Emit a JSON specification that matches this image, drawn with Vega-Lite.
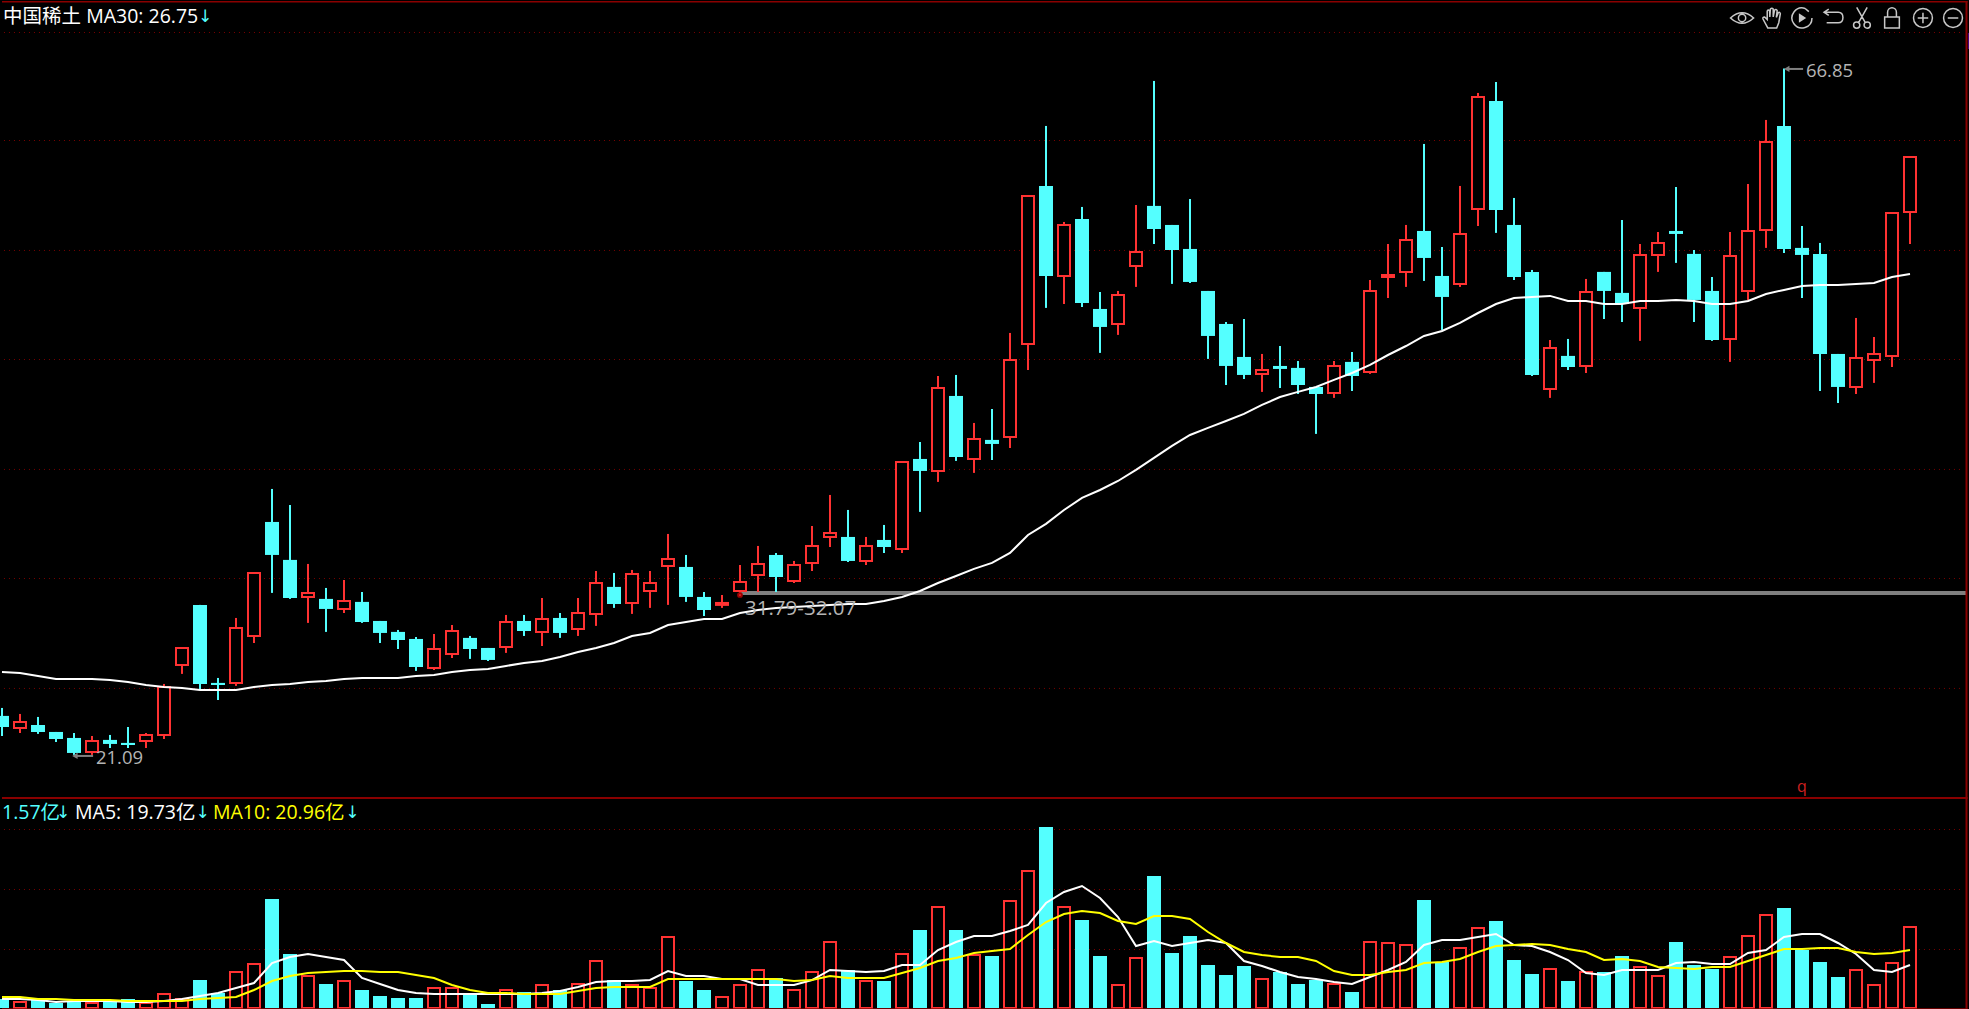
{
  "$schema": "https://vega.github.io/schema/vega-lite/v6.json",
  "background": "#000000",
  "padding": 0,
  "spacing": 0,
  "bounds": "flush",
  "config": {
    "view": {"stroke": null},
    "text": {"font": "Open Sans, Noto Sans CJK SC"}
  },
  "datasets": {
    "days": [
      {"d":0,"dir":"down","open":23.69,"high":24.22,"low":22.35,"close":22.95,"vol":3.2,"ma30":26.62,"vma5":3.2,"vma10":4},
      {"d":1,"dir":"up","open":22.89,"high":23.82,"low":22.55,"close":23.29,"vol":2,"ma30":26.55,"vma5":3.2,"vma10":4},
      {"d":2,"dir":"down","open":23.09,"high":23.62,"low":22.49,"close":22.62,"vol":2.8,"ma30":26.35,"vma5":2.8,"vma10":3.2},
      {"d":3,"dir":"down","open":22.62,"high":22.62,"low":21.95,"close":22.15,"vol":1.6,"ma30":26.15,"vma5":2,"vma10":3.2},
      {"d":4,"dir":"down","open":22.22,"high":22.55,"low":21.09,"close":21.22,"vol":2,"ma30":26.15,"vma5":2.4,"vma10":2.8},
      {"d":5,"dir":"up","open":21.29,"high":22.35,"low":21.09,"close":22.02,"vol":1.6,"ma30":26.15,"vma5":2.4,"vma10":2.8},
      {"d":6,"dir":"down","open":22.09,"high":22.42,"low":21.55,"close":21.82,"vol":2.4,"ma30":26.09,"vma5":2.4,"vma10":2.8},
      {"d":7,"dir":"down","open":21.89,"high":22.95,"low":21.55,"close":21.75,"vol":3.2,"ma30":25.95,"vma5":2,"vma10":2.4},
      {"d":8,"dir":"up","open":22.02,"high":22.55,"low":21.55,"close":22.42,"vol":1.6,"ma30":25.75,"vma5":2,"vma10":2.4},
      {"d":9,"dir":"up","open":22.42,"high":25.82,"low":22.15,"close":25.62,"vol":5.2,"ma30":25.62,"vma5":2.4,"vma10":2.4},
      {"d":10,"dir":"up","open":27.09,"high":28.22,"low":26.49,"close":28.22,"vol":3.2,"ma30":25.55,"vma5":3.2,"vma10":2.4},
      {"d":11,"dir":"down","open":31.09,"high":31.09,"low":25.42,"close":25.82,"vol":10.8,"ma30":25.42,"vma5":4.4,"vma10":3.2},
      {"d":12,"dir":"down","open":25.89,"high":26.22,"low":24.75,"close":25.75,"vol":5.6,"ma30":25.42,"vma5":5.6,"vma10":3.6},
      {"d":13,"dir":"up","open":25.89,"high":30.22,"low":25.69,"close":29.55,"vol":14,"ma30":25.42,"vma5":7.6,"vma10":4},
      {"d":14,"dir":"up","open":29.02,"high":33.22,"low":28.55,"close":33.22,"vol":17.2,"ma30":25.62,"vma5":9.6,"vma10":6.8},
      {"d":15,"dir":"down","open":36.62,"high":38.82,"low":31.89,"close":34.42,"vol":43.2,"ma30":25.75,"vma5":17.6,"vma10":10.4},
      {"d":16,"dir":"down","open":34.09,"high":37.75,"low":31.49,"close":31.55,"vol":21.2,"ma30":25.82,"vma5":20,"vma10":12.4},
      {"d":17,"dir":"up","open":31.62,"high":33.82,"low":29.89,"close":31.89,"vol":12.4,"ma30":25.95,"vma5":21.2,"vma10":13.6},
      {"d":18,"dir":"down","open":31.49,"high":32.22,"low":29.29,"close":30.82,"vol":9.2,"ma30":26.02,"vma5":20,"vma10":14},
      {"d":19,"dir":"up","open":30.82,"high":32.75,"low":30.55,"close":31.35,"vol":10.4,"ma30":26.15,"vma5":18.8,"vma10":14.4},
      {"d":20,"dir":"down","open":31.29,"high":31.95,"low":29.89,"close":29.95,"vol":6.8,"ma30":26.22,"vma5":11.6,"vma10":14.4},
      {"d":21,"dir":"down","open":30.02,"high":30.02,"low":28.55,"close":29.22,"vol":4.4,"ma30":26.22,"vma5":9.2,"vma10":14},
      {"d":22,"dir":"down","open":29.29,"high":29.42,"low":28.15,"close":28.75,"vol":3.6,"ma30":26.22,"vma5":6.8,"vma10":14},
      {"d":23,"dir":"down","open":28.82,"high":28.95,"low":26.69,"close":26.95,"vol":3.6,"ma30":26.35,"vma5":5.6,"vma10":12.8},
      {"d":24,"dir":"up","open":26.89,"high":29.15,"low":26.75,"close":28.15,"vol":7.6,"ma30":26.42,"vma5":5.2,"vma10":11.6},
      {"d":25,"dir":"up","open":27.82,"high":29.75,"low":27.55,"close":29.35,"vol":7.6,"ma30":26.62,"vma5":5.2,"vma10":8.8},
      {"d":26,"dir":"down","open":28.89,"high":29.02,"low":27.49,"close":28.15,"vol":5.2,"ma30":26.75,"vma5":5.2,"vma10":6.8},
      {"d":27,"dir":"down","open":28.22,"high":28.22,"low":27.35,"close":27.42,"vol":1.2,"ma30":26.82,"vma5":5.2,"vma10":5.6},
      {"d":28,"dir":"up","open":28.29,"high":30.42,"low":27.89,"close":29.95,"vol":6.8,"ma30":27.02,"vma5":5.2,"vma10":5.6},
      {"d":29,"dir":"down","open":30.02,"high":30.42,"low":29.02,"close":29.35,"vol":6,"ma30":27.22,"vma5":5.2,"vma10":5.2},
      {"d":30,"dir":"up","open":29.29,"high":31.55,"low":28.35,"close":30.15,"vol":8.8,"ma30":27.35,"vma5":5.6,"vma10":5.2},
      {"d":31,"dir":"down","open":30.22,"high":30.55,"low":28.89,"close":29.22,"vol":6.8,"ma30":27.62,"vma5":6.4,"vma10":5.2},
      {"d":32,"dir":"up","open":29.49,"high":31.55,"low":29.02,"close":30.55,"vol":9.2,"ma30":27.95,"vma5":8,"vma10":6.4},
      {"d":33,"dir":"up","open":30.49,"high":33.35,"low":29.69,"close":32.55,"vol":18.4,"ma30":28.22,"vma5":10,"vma10":7.6},
      {"d":34,"dir":"down","open":32.29,"high":33.22,"low":30.89,"close":31.15,"vol":10.8,"ma30":28.55,"vma5":10.4,"vma10":8},
      {"d":35,"dir":"up","open":31.22,"high":33.42,"low":30.49,"close":33.15,"vol":8.8,"ma30":29.02,"vma5":10.4,"vma10":8},
      {"d":36,"dir":"up","open":32.02,"high":33.35,"low":30.89,"close":32.55,"vol":7.6,"ma30":29.22,"vma5":10.8,"vma10":8},
      {"d":37,"dir":"up","open":33.69,"high":35.82,"low":31.09,"close":34.15,"vol":28,"ma30":29.75,"vma5":14.4,"vma10":11.2},
      {"d":38,"dir":"down","open":33.62,"high":34.42,"low":31.29,"close":31.62,"vol":10.4,"ma30":29.95,"vma5":12.4,"vma10":11.2},
      {"d":39,"dir":"down","open":31.62,"high":31.95,"low":30.35,"close":30.75,"vol":6.8,"ma30":30.15,"vma5":12.4,"vma10":11.2},
      {"d":40,"dir":"up","open":31.09,"high":31.75,"low":30.89,"close":31.22,"vol":4,"ma30":30.15,"vma5":11.2,"vma10":11.2},
      {"d":41,"dir":"up","open":32.02,"high":33.75,"low":31.62,"close":32.62,"vol":8.8,"ma30":30.55,"vma5":11.2,"vma10":11.2},
      {"d":42,"dir":"up","open":33.09,"high":35.02,"low":31.95,"close":33.82,"vol":14.8,"ma30":30.75,"vma5":8.8,"vma10":11.2},
      {"d":43,"dir":"down","open":34.42,"high":34.55,"low":31.95,"close":32.95,"vol":11.6,"ma30":30.89,"vma5":8.8,"vma10":11.2},
      {"d":44,"dir":"up","open":32.69,"high":34.02,"low":32.55,"close":33.75,"vol":6.8,"ma30":30.95,"vma5":8.8,"vma10":10.4},
      {"d":45,"dir":"up","open":33.89,"high":36.35,"low":33.35,"close":35.02,"vol":14,"ma30":31.02,"vma5":10.8,"vma10":10.8},
      {"d":46,"dir":"up","open":35.62,"high":38.42,"low":34.95,"close":35.89,"vol":26,"ma30":31.09,"vma5":14.8,"vma10":12.4},
      {"d":47,"dir":"down","open":35.62,"high":37.42,"low":33.95,"close":34.02,"vol":14.8,"ma30":31.15,"vma5":14.4,"vma10":11.6},
      {"d":48,"dir":"up","open":34.02,"high":35.62,"low":33.75,"close":35.02,"vol":10.4,"ma30":31.15,"vma5":14,"vma10":11.6},
      {"d":49,"dir":"down","open":35.42,"high":36.42,"low":34.55,"close":34.95,"vol":10.4,"ma30":31.35,"vma5":14.4,"vma10":11.6},
      {"d":50,"dir":"up","open":34.82,"high":40.62,"low":34.55,"close":40.62,"vol":21.2,"ma30":31.62,"vma5":16.8,"vma10":13.6},
      {"d":51,"dir":"down","open":40.82,"high":41.95,"low":37.29,"close":40.02,"vol":30.8,"ma30":32.02,"vma5":16.8,"vma10":15.6},
      {"d":52,"dir":"up","open":40.02,"high":46.35,"low":39.29,"close":45.55,"vol":40,"ma30":32.55,"vma5":22.8,"vma10":18.4},
      {"d":53,"dir":"down","open":45.02,"high":46.42,"low":40.69,"close":40.95,"vol":30.8,"ma30":33.02,"vma5":26,"vma10":19.6},
      {"d":54,"dir":"up","open":40.82,"high":43.22,"low":39.89,"close":42.15,"vol":20.8,"ma30":33.49,"vma5":28.4,"vma10":21.6},
      {"d":55,"dir":"down","open":42.09,"high":44.15,"low":40.75,"close":41.82,"vol":20.4,"ma30":33.89,"vma5":28.4,"vma10":22.4},
      {"d":56,"dir":"up","open":42.29,"high":49.22,"low":41.55,"close":47.42,"vol":42.4,"ma30":34.55,"vma5":30.4,"vma10":23.2},
      {"d":57,"dir":"up","open":48.49,"high":58.35,"low":46.75,"close":58.35,"vol":54.4,"ma30":35.75,"vma5":32.8,"vma10":28.8},
      {"d":58,"dir":"down","open":59.02,"high":63.02,"low":50.89,"close":53.02,"vol":72,"ma30":36.49,"vma5":41.6,"vma10":34},
      {"d":59,"dir":"up","open":53.02,"high":56.62,"low":51.15,"close":56.42,"vol":40,"ma30":37.42,"vma5":46,"vma10":37.2},
      {"d":60,"dir":"down","open":56.82,"high":57.62,"low":50.95,"close":51.22,"vol":34.8,"ma30":38.22,"vma5":48.4,"vma10":38.4},
      {"d":61,"dir":"down","open":50.82,"high":51.95,"low":47.89,"close":49.62,"vol":20.4,"ma30":38.75,"vma5":43.6,"vma10":37.6},
      {"d":62,"dir":"up","open":49.82,"high":52.02,"low":49.09,"close":51.75,"vol":8.8,"ma30":39.35,"vma5":36,"vma10":34.4},
      {"d":63,"dir":"up","open":53.69,"high":57.75,"low":52.29,"close":54.62,"vol":19.6,"ma30":40.09,"vma5":24.4,"vma10":33.2},
      {"d":64,"dir":"down","open":57.69,"high":66.02,"low":55.15,"close":56.15,"vol":52.4,"ma30":40.89,"vma5":26.4,"vma10":36.4},
      {"d":65,"dir":"down","open":56.42,"high":56.42,"low":52.49,"close":54.75,"vol":21.6,"ma30":41.69,"vma5":24.4,"vma10":36.4},
      {"d":66,"dir":"down","open":54.82,"high":58.15,"low":52.55,"close":52.62,"vol":28.4,"ma30":42.42,"vma5":25.6,"vma10":35.2},
      {"d":67,"dir":"down","open":52.02,"high":52.02,"low":47.49,"close":49.02,"vol":16.8,"ma30":42.89,"vma5":26.8,"vma10":30},
      {"d":68,"dir":"down","open":49.82,"high":49.95,"low":45.75,"close":47.02,"vol":12.8,"ma30":43.35,"vma5":25.6,"vma10":25.6},
      {"d":69,"dir":"down","open":47.62,"high":50.15,"low":46.15,"close":46.42,"vol":16.4,"ma30":43.82,"vma5":18.4,"vma10":22},
      {"d":70,"dir":"up","open":46.49,"high":47.82,"low":45.29,"close":46.75,"vol":11.2,"ma30":44.42,"vma5":16.4,"vma10":20.8},
      {"d":71,"dir":"down","open":47.02,"high":48.35,"low":45.55,"close":46.82,"vol":14,"ma30":44.95,"vma5":14,"vma10":20},
      {"d":72,"dir":"down","open":46.89,"high":47.35,"low":45.15,"close":45.75,"vol":9.2,"ma30":45.29,"vma5":12,"vma10":20},
      {"d":73,"dir":"down","open":45.62,"high":45.62,"low":42.49,"close":45.15,"vol":10.8,"ma30":45.62,"vma5":11.2,"vma10":18.4},
      {"d":74,"dir":"up","open":45.22,"high":47.35,"low":44.89,"close":47.02,"vol":9.2,"ma30":46.09,"vma5":10,"vma10":14.4},
      {"d":75,"dir":"down","open":47.29,"high":47.95,"low":45.35,"close":46.35,"vol":6,"ma30":46.55,"vma5":9.2,"vma10":12.8},
      {"d":76,"dir":"up","open":46.62,"high":52.75,"low":46.49,"close":52.02,"vol":26,"ma30":47.09,"vma5":12,"vma10":12.8},
      {"d":77,"dir":"up","open":52.95,"high":55.15,"low":51.55,"close":53.09,"vol":25.6,"ma30":47.75,"vma5":14.8,"vma10":14},
      {"d":78,"dir":"up","open":53.29,"high":56.42,"low":52.29,"close":55.42,"vol":24.8,"ma30":48.35,"vma5":18,"vma10":14.8},
      {"d":79,"dir":"down","open":56.02,"high":61.82,"low":52.69,"close":54.22,"vol":42.8,"ma30":49.02,"vma5":24.8,"vma10":17.6},
      {"d":80,"dir":"down","open":53.02,"high":54.95,"low":49.42,"close":51.62,"vol":18,"ma30":49.35,"vma5":26.8,"vma10":18},
      {"d":81,"dir":"up","open":52.49,"high":59.02,"low":52.29,"close":55.82,"vol":23.6,"ma30":49.89,"vma5":26.8,"vma10":19.2},
      {"d":82,"dir":"up","open":57.49,"high":65.22,"low":56.35,"close":64.95,"vol":31.6,"ma30":50.55,"vma5":28,"vma10":22},
      {"d":83,"dir":"down","open":64.69,"high":65.95,"low":55.89,"close":57.42,"vol":34.4,"ma30":51.15,"vma5":29.2,"vma10":24.4},
      {"d":84,"dir":"down","open":56.42,"high":58.22,"low":52.75,"close":52.95,"vol":18.8,"ma30":51.55,"vma5":24.8,"vma10":24.8},
      {"d":85,"dir":"down","open":53.29,"high":53.42,"low":46.35,"close":46.42,"vol":13.2,"ma30":51.62,"vma5":24.4,"vma10":25.2},
      {"d":86,"dir":"up","open":45.49,"high":48.75,"low":44.89,"close":48.22,"vol":15.2,"ma30":51.69,"vma5":22,"vma10":24.8},
      {"d":87,"dir":"down","open":47.69,"high":48.82,"low":46.75,"close":46.95,"vol":10.4,"ma30":51.35,"vma5":18.8,"vma10":23.2},
      {"d":88,"dir":"up","open":47.02,"high":52.82,"low":46.55,"close":51.95,"vol":14,"ma30":51.35,"vma5":13.6,"vma10":22},
      {"d":89,"dir":"down","open":53.29,"high":53.29,"low":50.15,"close":52.02,"vol":14,"ma30":51.15,"vma5":12.8,"vma10":18.8},
      {"d":90,"dir":"down","open":51.89,"high":56.75,"low":49.95,"close":51.15,"vol":20.4,"ma30":51.15,"vma5":14.8,"vma10":19.2},
      {"d":91,"dir":"up","open":50.89,"high":55.15,"low":48.69,"close":54.42,"vol":16,"ma30":51.35,"vma5":14.8,"vma10":18.4},
      {"d":92,"dir":"up","open":54.42,"high":55.95,"low":53.29,"close":55.22,"vol":12.4,"ma30":51.35,"vma5":14.8,"vma10":16},
      {"d":93,"dir":"down","open":56.02,"high":58.95,"low":53.89,"close":55.82,"vol":26,"ma30":51.42,"vma5":17.6,"vma10":15.6},
      {"d":94,"dir":"down","open":54.49,"high":54.75,"low":49.95,"close":51.42,"vol":16.8,"ma30":51.35,"vma5":18,"vma10":15.2},
      {"d":95,"dir":"down","open":52.02,"high":52.95,"low":48.69,"close":48.75,"vol":15.2,"ma30":51.15,"vma5":17.2,"vma10":16},
      {"d":96,"dir":"up","open":48.82,"high":55.95,"low":47.29,"close":54.35,"vol":20,"ma30":51.15,"vma5":17.2,"vma10":16},
      {"d":97,"dir":"up","open":52.02,"high":59.15,"low":51.42,"close":56.02,"vol":28.4,"ma30":51.35,"vma5":21.6,"vma10":18.4},
      {"d":98,"dir":"up","open":56.09,"high":63.42,"low":54.89,"close":61.95,"vol":36.8,"ma30":51.82,"vma5":22.8,"vma10":20.8},
      {"d":99,"dir":"down","open":63.02,"high":66.85,"low":54.55,"close":54.82,"vol":39.6,"ma30":52.09,"vma5":28,"vma10":23.2},
      {"d":100,"dir":"down","open":54.89,"high":56.35,"low":51.55,"close":54.42,"vol":22.8,"ma30":52.35,"vma5":29.2,"vma10":23.2},
      {"d":101,"dir":"down","open":54.49,"high":55.22,"low":45.35,"close":47.82,"vol":18,"ma30":52.42,"vma5":29.2,"vma10":23.6},
      {"d":102,"dir":"down","open":47.82,"high":47.82,"low":44.55,"close":45.62,"vol":12,"ma30":52.42,"vma5":25.6,"vma10":23.6},
      {"d":103,"dir":"up","open":45.62,"high":50.22,"low":45.15,"close":47.55,"vol":14.8,"ma30":52.49,"vma5":21.2,"vma10":22},
      {"d":104,"dir":"up","open":47.42,"high":48.95,"low":45.89,"close":47.82,"vol":8.8,"ma30":52.55,"vma5":14.8,"vma10":21.2},
      {"d":105,"dir":"up","open":47.69,"high":57.22,"low":46.95,"close":57.22,"vol":17.6,"ma30":52.95,"vma5":14,"vma10":21.6},
      {"d":106,"dir":"up","open":57.29,"high":60.95,"low":55.15,"close":60.95,"vol":32,"ma30":53.15,"vma5":16.8,"vma10":22.8}
    ],
    "priceGrid": [
      {"d":0.11,"d2":108.9,"p":69.25},
      {"d":0.11,"d2":108.9,"p":62.05},
      {"d":0.11,"d2":108.9,"p":54.72},
      {"d":0.11,"d2":108.9,"p":47.45},
      {"d":0.11,"d2":108.9,"p":40.12},
      {"d":0.11,"d2":108.9,"p":32.85},
      {"d":0.11,"d2":108.9,"p":25.52}
    ],
    "volGrid": [
      {"d":0.11,"d2":108.9,"v":71},
      {"d":0.11,"d2":108.9,"v":47},
      {"d":0.11,"d2":108.9,"v":23}
    ]
  },
  "vconcat": [
    {
      "width": 1969,
      "height": 798,
      "data": {"name": "days"},
      "encoding": {
        "x": {"field": "d", "type": "quantitative", "scale": {"domain": [-0.1111, 109.2778], "nice": false, "zero": false, "padding": 0}, "axis": null}
      },
      "layer": [
        {
          "data": {"name": "priceGrid"},
          "mark": {"type": "rule", "color": "#7a0000", "strokeWidth": 1, "strokeDash": [1, 4]},
          "encoding": {
            "x2": {"field": "d2"},
            "y": {"field": "p", "type": "quantitative", "scale": {"domain": [18.15, 71.35], "nice": false, "zero": false}, "axis": null}
          }
        },
        {
          "data": {"values": [{"d": 41.06, "d2": 109.14, "p": 31.89}]},
          "mark": {"type": "rule", "color": "#808080", "strokeWidth": 4},
          "encoding": {
            "x2": {"field": "d2"},
            "y": {"field": "p", "type": "quantitative", "scale": {"domain": [18.15, 71.35], "nice": false, "zero": false}, "axis": null}
          }
        },
        {
          "mark": {"type": "rule", "strokeWidth": 2},
          "encoding": {
            "y": {"field": "low", "type": "quantitative", "scale": {"domain": [18.15, 71.35], "nice": false, "zero": false}, "axis": null},
            "y2": {"field": "high"},
            "color": {"field": "dir", "type": "nominal", "scale": {"domain": ["up", "down"], "range": ["#ff3232", "#54ffff"]}, "legend": null}
          }
        },
        {
          "transform": [{"filter": "datum.dir == 'down'"}],
          "mark": {"type": "bar", "size": 14, "orient": "vertical", "color": "#54ffff", "clip": true},
          "encoding": {
            "y": {"field": "open", "type": "quantitative", "scale": {"domain": [18.15, 71.35], "nice": false, "zero": false}, "axis": null},
            "y2": {"field": "close"}
          }
        },
        {
          "transform": [{"filter": "datum.dir == 'up'"}],
          "mark": {"type": "bar", "size": 12, "orient": "vertical", "fill": "#000000", "stroke": "#ff3232", "strokeWidth": 2, "clip": true},
          "encoding": {
            "y": {"field": "open", "type": "quantitative", "scale": {"domain": [18.15, 71.35], "nice": false, "zero": false}, "axis": null},
            "y2": {"field": "close"}
          }
        },
        {
          "mark": {"type": "line", "color": "#ffffff", "strokeWidth": 2, "clip": true},
          "encoding": {
            "y": {"field": "ma30", "type": "quantitative", "scale": {"domain": [18.15, 71.35], "nice": false, "zero": false}, "axis": null}
          }
        },
        {
          "data": {"values": [
            {"d": 4.05, "d2": 5.06, "p": 21.02},
            {"d": 99.1, "d2": 100.06, "p": 66.82}
          ]},
          "mark": {"type": "rule", "color": "#808080", "strokeWidth": 2},
          "encoding": {
            "x2": {"field": "d2"},
            "y": {"field": "p", "type": "quantitative", "scale": {"domain": [18.15, 71.35], "nice": false, "zero": false}, "axis": null}
          }
        },
        {
          "data": {"values": [
            {"d": 4.05, "p": 21.02},
            {"d": 99.15, "p": 66.82}
          ]},
          "mark": {"type": "point", "shape": "triangle-left", "filled": true, "size": 40, "color": "#808080", "opacity": 1},
          "encoding": {
            "y": {"field": "p", "type": "quantitative", "scale": {"domain": [18.15, 71.35], "nice": false, "zero": false}, "axis": null}
          }
        },
        {
          "data": {"values": [{"d": 41, "p": 31.75}]},
          "mark": {"type": "point", "filled": false, "size": 14, "stroke": "#a00000", "strokeWidth": 2, "opacity": 1},
          "encoding": {
            "y": {"field": "p", "type": "quantitative", "scale": {"domain": [18.15, 71.35], "nice": false, "zero": false}, "axis": null}
          }
        },
        {
          "data": {"values": [
            {"d": 5.22, "p": 20.88, "label": "21.09"},
            {"d": 100.22, "p": 66.68, "label": "66.85"}
          ]},
          "mark": {"type": "text", "align": "left", "baseline": "middle", "fontSize": 18.5, "color": "#b4b4b4"},
          "encoding": {
            "y": {"field": "p", "type": "quantitative", "scale": {"domain": [18.15, 71.35], "nice": false, "zero": false}, "axis": null},
            "text": {"field": "label"}
          }
        },
        {
          "data": {"values": [{"d": 41.28, "p": 30.82, "label": "31.79-32.07"}]},
          "mark": {"type": "text", "align": "left", "baseline": "middle", "fontSize": 20.5, "color": "#b4b4b4"},
          "encoding": {
            "y": {"field": "p", "type": "quantitative", "scale": {"domain": [18.15, 71.35], "nice": false, "zero": false}, "axis": null},
            "text": {"field": "label"}
          }
        },
        {
          "data": {"values": [{"d": 0.06, "p": 70.28, "label": "中国稀土 MA30: 26.75"}]},
          "mark": {"type": "text", "align": "left", "baseline": "middle", "fontSize": 19.5, "color": "#ffffff"},
          "encoding": {
            "y": {"field": "p", "type": "quantitative", "scale": {"domain": [18.15, 71.35], "nice": false, "zero": false}, "axis": null},
            "text": {"field": "label"}
          }
        },
        {
          "data": {"values": [{"d": 11.28, "p": 70.28, "label": "↓"}]},
          "mark": {"type": "text", "align": "center", "baseline": "middle", "font": "DejaVu Sans", "fontSize": 17, "color": "#54ffff"},
          "encoding": {
            "y": {"field": "p", "type": "quantitative", "scale": {"domain": [18.15, 71.35], "nice": false, "zero": false}, "axis": null},
            "text": {"field": "label"}
          }
        },
        {
          "data": {"values": [{"d": 99.72, "p": 18.93, "label": "q"}]},
          "mark": {"type": "text", "align": "left", "baseline": "middle", "fontSize": 16, "color": "#d02020"},
          "encoding": {
            "y": {"field": "p", "type": "quantitative", "scale": {"domain": [18.15, 71.35], "nice": false, "zero": false}, "axis": null},
            "text": {"field": "label"}
          }
        },
        {
          "data": {"values": [{"d": 96.67, "p": 70.22}]},
          "mark": {"type": "point", "shape": "M-1.1,0Q0,-1,1.1,0Q0,1,-1.1,0ZM-0.35,0A0.35,0.35,0,1,1,0.35,0A0.35,0.35,0,1,1,-0.35,0Z", "filled": false, "size": 441, "stroke": "#c8c8c8", "strokeWidth": 1.5, "opacity": 1},
          "encoding": {"y": {"field": "p", "type": "quantitative", "scale": {"domain": [18.15, 71.35], "nice": false, "zero": false}, "axis": null}}
        },
        {
          "data": {"values": [{"d": 98.33, "p": 70.22}]},
          "mark": {"type": "point", "shape": "M-0.4,0.95L-0.85,0.1Q-0.9,-0.1,-0.7,-0.1L-0.45,0.15L-0.45,-0.65Q-0.35,-0.85,-0.22,-0.65L-0.2,-0.1L-0.15,-0.85Q0,-1,0.12,-0.85L0.12,-0.1L0.25,-0.75Q0.4,-0.9,0.5,-0.7L0.42,-0.05L0.6,-0.5Q0.75,-0.6,0.8,-0.4L0.65,0.45L0.45,0.95Z", "filled": false, "size": 441, "stroke": "#c8c8c8", "strokeWidth": 1.5, "opacity": 1},
          "encoding": {"y": {"field": "p", "type": "quantitative", "scale": {"domain": [18.15, 71.35], "nice": false, "zero": false}, "axis": null}}
        },
        {
          "data": {"values": [{"d": 100, "p": 70.22}]},
          "mark": {"type": "point", "shape": "M0.3,-0.9A0.95,0.95,0,1,0,0.95,0M0.3,-0.9L0.65,-0.6", "filled": false, "size": 441, "stroke": "#c8c8c8", "strokeWidth": 1.5, "opacity": 1},
          "encoding": {"y": {"field": "p", "type": "quantitative", "scale": {"domain": [18.15, 71.35], "nice": false, "zero": false}, "axis": null}}
        },
        {
          "data": {"values": [{"d": 100, "p": 70.22}]},
          "mark": {"type": "point", "shape": "M-0.3,-0.45L0.4,0L-0.3,0.45Z", "filled": true, "size": 441, "color": "#c8c8c8", "opacity": 1},
          "encoding": {"y": {"field": "p", "type": "quantitative", "scale": {"domain": [18.15, 71.35], "nice": false, "zero": false}, "axis": null}}
        },
        {
          "data": {"values": [{"d": 101.72, "p": 70.22}]},
          "mark": {"type": "point", "shape": "M-0.85,-0.55L0.5,-0.55Q0.95,-0.55,0.95,-0.05Q0.95,0.45,0.5,0.45L-0.6,0.45M-0.4,-0.85L-0.85,-0.55L-0.4,-0.25", "filled": false, "size": 441, "stroke": "#c8c8c8", "strokeWidth": 1.5, "opacity": 1},
          "encoding": {"y": {"field": "p", "type": "quantitative", "scale": {"domain": [18.15, 71.35], "nice": false, "zero": false}, "axis": null}}
        },
        {
          "data": {"values": [{"d": 103.33, "p": 70.22}]},
          "mark": {"type": "point", "shape": "M-0.32,0.45L0.5,-1M0.32,0.45L-0.5,-1M-0.8,0.68A0.3,0.3,0,1,1,-0.2,0.68A0.3,0.3,0,1,1,-0.8,0.68ZM0.2,0.68A0.3,0.3,0,1,1,0.8,0.68A0.3,0.3,0,1,1,0.2,0.68Z", "filled": false, "size": 441, "stroke": "#c8c8c8", "strokeWidth": 1.5, "opacity": 1},
          "encoding": {"y": {"field": "p", "type": "quantitative", "scale": {"domain": [18.15, 71.35], "nice": false, "zero": false}, "axis": null}}
        },
        {
          "data": {"values": [{"d": 105, "p": 70.22}]},
          "mark": {"type": "point", "shape": "M-0.7,-0.1L0.7,-0.1L0.7,0.95L-0.7,0.95ZM-0.42,-0.1L-0.42,-0.55A0.42,0.42,0,0,1,0.42,-0.55L0.42,-0.1", "filled": false, "size": 441, "stroke": "#c8c8c8", "strokeWidth": 1.5, "opacity": 1},
          "encoding": {"y": {"field": "p", "type": "quantitative", "scale": {"domain": [18.15, 71.35], "nice": false, "zero": false}, "axis": null}}
        },
        {
          "data": {"values": [{"d": 106.72, "p": 70.22}]},
          "mark": {"type": "point", "shape": "M-0.9,0A0.9,0.9,0,1,1,0.9,0A0.9,0.9,0,1,1,-0.9,0ZM-0.5,0L0.5,0M0,-0.5L0,0.5", "filled": false, "size": 441, "stroke": "#c8c8c8", "strokeWidth": 1.5, "opacity": 1},
          "encoding": {"y": {"field": "p", "type": "quantitative", "scale": {"domain": [18.15, 71.35], "nice": false, "zero": false}, "axis": null}}
        },
        {
          "data": {"values": [{"d": 108.39, "p": 70.22}]},
          "mark": {"type": "point", "shape": "M-0.9,0A0.9,0.9,0,1,1,0.9,0A0.9,0.9,0,1,1,-0.9,0ZM-0.5,0L0.5,0", "filled": false, "size": 441, "stroke": "#c8c8c8", "strokeWidth": 1.5, "opacity": 1},
          "encoding": {"y": {"field": "p", "type": "quantitative", "scale": {"domain": [18.15, 71.35], "nice": false, "zero": false}, "axis": null}}
        },
        {
          "data": {"values": [{"d": 0, "d2": 109.2, "p": 71.3}]},
          "mark": {"type": "rule", "color": "#8a0000", "strokeWidth": 1.5},
          "encoding": {
            "x2": {"field": "d2"},
            "y": {"field": "p", "type": "quantitative", "scale": {"domain": [18.15, 71.35], "nice": false, "zero": false}, "axis": null}
          }
        },
        {
          "data": {"values": [{"d": 0, "d2": 109.2, "p": 18.22}]},
          "mark": {"type": "rule", "color": "#8a0000", "strokeWidth": 2},
          "encoding": {
            "x2": {"field": "d2"},
            "y": {"field": "p", "type": "quantitative", "scale": {"domain": [18.15, 71.35], "nice": false, "zero": false}, "axis": null}
          }
        },
        {
          "data": {"values": [{"d": 109.14, "p": 71.35, "p2": 18.15}]},
          "mark": {"type": "rule", "color": "#8a0000", "strokeWidth": 2},
          "encoding": {
            "y": {"field": "p", "type": "quantitative", "scale": {"domain": [18.15, 71.35], "nice": false, "zero": false}, "axis": null},
            "y2": {"field": "p2"}
          }
        },
        {
          "data": {"values": [{"d": 109.25, "p": 69.22, "p2": 68.15}]},
          "mark": {"type": "rule", "color": "#4b0082", "strokeWidth": 1},
          "encoding": {
            "y": {"field": "p", "type": "quantitative", "scale": {"domain": [18.15, 71.35], "nice": false, "zero": false}, "axis": null},
            "y2": {"field": "p2"}
          }
        }
      ]
    },
    {
      "width": 1969,
      "height": 211,
      "data": {"name": "days"},
      "encoding": {
        "x": {"field": "d", "type": "quantitative", "scale": {"domain": [-0.1111, 109.2778], "nice": false, "zero": false, "padding": 0}, "axis": null}
      },
      "layer": [
        {
          "data": {"name": "volGrid"},
          "mark": {"type": "rule", "color": "#7a0000", "strokeWidth": 1, "strokeDash": [1, 4]},
          "encoding": {
            "x2": {"field": "d2"},
            "y": {"field": "v", "type": "quantitative", "scale": {"domain": [-1.2, 83.2], "nice": false, "zero": false}, "axis": null}
          }
        },
        {
          "transform": [{"filter": "datum.dir == 'down'"}],
          "mark": {"type": "bar", "size": 14, "orient": "vertical", "color": "#54ffff", "clip": true},
          "encoding": {
            "y": {"field": "vol", "type": "quantitative", "stack": null, "scale": {"domain": [-1.2, 83.2], "nice": false, "zero": false}, "axis": null},
            "y2": {"datum": -0.4}
          }
        },
        {
          "transform": [{"filter": "datum.dir == 'up'"}],
          "mark": {"type": "bar", "size": 12, "orient": "vertical", "fill": "#000000", "stroke": "#ff3232", "strokeWidth": 2, "clip": true},
          "encoding": {
            "y": {"field": "vol", "type": "quantitative", "stack": null, "scale": {"domain": [-1.2, 83.2], "nice": false, "zero": false}, "axis": null},
            "y2": {"datum": -0.4}
          }
        },
        {
          "mark": {"type": "line", "color": "#ffffff", "strokeWidth": 2, "clip": true},
          "encoding": {
            "y": {"field": "vma5", "type": "quantitative", "scale": {"domain": [-1.2, 83.2], "nice": false, "zero": false}, "axis": null}
          }
        },
        {
          "mark": {"type": "line", "color": "#ffff00", "strokeWidth": 2, "clip": true},
          "encoding": {
            "y": {"field": "vma10", "type": "quantitative", "scale": {"domain": [-1.2, 83.2], "nice": false, "zero": false}, "axis": null}
          }
        },
        {
          "data": {"values": [{"d": 0, "v": 77.6, "label": "1.57亿"}]},
          "mark": {"type": "text", "align": "left", "baseline": "middle", "fontSize": 19.5, "color": "#54ffff"},
          "encoding": {
            "y": {"field": "v", "type": "quantitative", "scale": {"domain": [-1.2, 83.2], "nice": false, "zero": false}, "axis": null},
            "text": {"field": "label"}
          }
        },
        {
          "data": {"values": [
            {"d": 3.39, "v": 77.6, "label": "↓"},
            {"d": 11.15, "v": 77.6, "label": "↓"},
            {"d": 19.47, "v": 77.6, "label": "↓"}
          ]},
          "mark": {"type": "text", "align": "center", "baseline": "middle", "font": "DejaVu Sans", "fontSize": 17, "color": "#54ffff"},
          "encoding": {
            "y": {"field": "v", "type": "quantitative", "scale": {"domain": [-1.2, 83.2], "nice": false, "zero": false}, "axis": null},
            "text": {"field": "label"}
          }
        },
        {
          "data": {"values": [{"d": 4.06, "v": 77.6, "label": "MA5: 19.73亿"}]},
          "mark": {"type": "text", "align": "left", "baseline": "middle", "fontSize": 19.5, "color": "#ffffff"},
          "encoding": {
            "y": {"field": "v", "type": "quantitative", "scale": {"domain": [-1.2, 83.2], "nice": false, "zero": false}, "axis": null},
            "text": {"field": "label"}
          }
        },
        {
          "data": {"values": [{"d": 11.72, "v": 77.6, "label": "MA10: 20.96亿"}]},
          "mark": {"type": "text", "align": "left", "baseline": "middle", "fontSize": 19.5, "color": "#ffff00"},
          "encoding": {
            "y": {"field": "v", "type": "quantitative", "scale": {"domain": [-1.2, 83.2], "nice": false, "zero": false}, "axis": null},
            "text": {"field": "label"}
          }
        },
        {
          "data": {"values": [{"d": 0, "d2": 109.2, "v": -0.8}]},
          "mark": {"type": "rule", "color": "#8a0000", "strokeWidth": 1.5},
          "encoding": {
            "x2": {"field": "d2"},
            "y": {"field": "v", "type": "quantitative", "scale": {"domain": [-1.2, 83.2], "nice": false, "zero": false}, "axis": null}
          }
        },
        {
          "data": {"values": [{"d": 109.14, "v": 83.2, "v2": -1.2}]},
          "mark": {"type": "rule", "color": "#8a0000", "strokeWidth": 2},
          "encoding": {
            "y": {"field": "v", "type": "quantitative", "scale": {"domain": [-1.2, 83.2], "nice": false, "zero": false}, "axis": null},
            "y2": {"field": "v2"}
          }
        }
      ]
    }
  ]
}
